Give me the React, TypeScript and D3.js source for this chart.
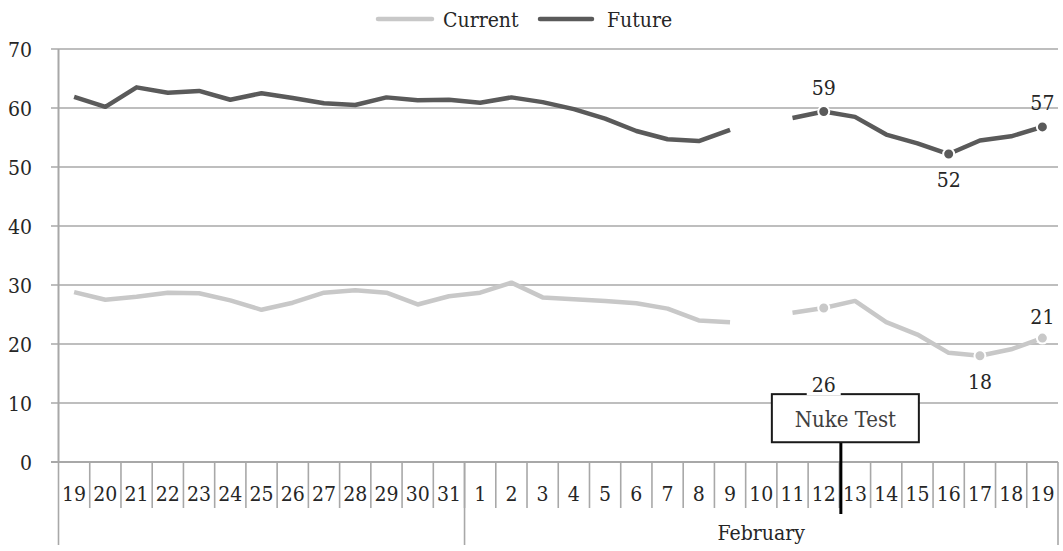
import React from "react";
import * as d3 from "d3";

const days = [
  "19", "20", "21", "22", "23", "24", "25", "26", "27", "28", "29", "30", "31",
  "1", "2", "3", "4", "5", "6", "7", "8", "9", "10", "11", "12", "13", "14", "15", "16", "17", "18", "19",
];
const monthNames = ["", "February"];
const monthLengths = [13, 19];

const currentValues: (number | null)[] = [
  28.8, 27.5, 28.0, 28.7, 28.6, 27.4, 25.8, 27.0, 28.7, 29.1, 28.7, 26.7, 28.1,
  28.7, 30.4, 27.9, 27.6, 27.3, 26.9, 26.0, 24.0, 23.7, null, 25.3, 26.1, 27.3, 23.7, 21.6, 18.5, 18.0, 19.1, 21.0,
];
const futureValues: (number | null)[] = [
  61.9, 60.2, 63.5, 62.6, 62.9, 61.4, 62.5, 61.7, 60.8, 60.5, 61.8, 61.3, 61.4,
  60.9, 61.8, 61.0, 59.8, 58.2, 56.1, 54.7, 54.4, 56.3, null, 58.3, 59.4, 58.5, 55.5, 54.0, 52.2, 54.5, 55.2, 56.8,
];
const yTicks = [0, 10, 20, 30, 40, 50, 60, 70];

const currentMarks = [
  { i: 24, pos: "box" },
  { i: 29, pos: "below" },
  { i: 31, pos: "above" },
];
const futureMarks = [
  { i: 24, pos: "above" },
  { i: 28, pos: "below" },
  { i: 31, pos: "above" },
];

const eventLabel = "Nuke Test";
const eventAfterIndex = 24;

const FONT = "'DejaVu Serif Condensed', 'DejaVu Serif', serif";
const CURRENT_COLOR = "#C8C8C8";
const FUTURE_COLOR = "#5A5A5A";
const GRID = "#A8A8A8";
const TEXT = "#262626";

export default function App() {
  const W = 1063;
  const H = 551;
  const x0 = 58.5;
  const x1 = 1058;
  const yTop = 49;
  const yBot = 462;

  const x = d3.scaleBand<number>().domain(d3.range(days.length)).range([x0, x1]).paddingInner(0).paddingOuter(0);
  const y = d3.scaleLinear().domain([0, 70]).range([yBot, yTop]);
  const bw = x.bandwidth();
  const cx = (i: number) => (x(i) as number) + bw / 2;

  const line = d3
    .line<number | null>()
    .defined((d) => d !== null)
    .x((_, i) => cx(i))
    .y((d) => y(d as number));

  const groupEdges: number[] = [0];
  monthLengths.forEach((n, k) => groupEdges.push(groupEdges[k] + n));

  const evX = (x(eventAfterIndex) as number) + bw + 1.5;
  const boxW = 147;
  const boxCx = evX + 4.5;
  const boxTop = y(11.5);
  const boxBot = y(3.35);

  const fontSize = 21;

  return (
    <svg width={W} height={H} fontFamily={FONT} fontStretch="condensed" style={{ display: "block", position: "absolute", left: 0, top: 0 }}>
      <rect x={0} y={0} width={W} height={H} fill="#fff" />
      <g>
        <line x1={378} x2={432} y1={19} y2={19} stroke={CURRENT_COLOR} strokeWidth={4.5} strokeLinecap="round" />
        <text x={443} y={27} fontSize={fontSize} fill={TEXT}>Current</text>
        <line x1={540} x2={592} y1={19} y2={19} stroke={FUTURE_COLOR} strokeWidth={4.5} strokeLinecap="round" />
        <text x={607} y={27} fontSize={fontSize} fill={TEXT}>Future</text>
      </g>
      {yTicks.map((t) => (
        <g key={t}>
          <line x1={51} x2={x1} y1={y(t)} y2={y(t)} stroke={GRID} strokeWidth={t === 0 ? 2 : 1.6} />
          <text x={32} y={y(t) + 8} fontSize={fontSize} textAnchor="end" fill={TEXT}>{t}</text>
        </g>
      ))}
      <line x1={x0} x2={x0} y1={yTop} y2={yBot} stroke={GRID} strokeWidth={2} />
      {days.map((d, i) => (
        <g key={i}>
          {i > 0 && <line x1={x(i) as number} x2={x(i) as number} y1={yBot} y2={508} stroke={GRID} strokeWidth={1.6} />}
          <text x={cx(i)} y={501} fontSize={fontSize} textAnchor="middle" fill={TEXT}>{d}</text>
        </g>
      ))}
      {groupEdges.map((g, k) => {
        const gx = g < days.length ? (x(g) as number) : x1;
        return <line key={k} x1={gx} x2={gx} y1={yBot} y2={545} stroke={GRID} strokeWidth={1.6} />;
      })}
      {monthNames.map((m, k) => {
        const a = x(groupEdges[k]) as number;
        const b = groupEdges[k + 1] < days.length ? (x(groupEdges[k + 1]) as number) : x1;
        return (
          <text key={k} x={(a + b) / 2} y={540} fontSize={fontSize} textAnchor="middle" fill={TEXT}>{m}</text>
        );
      })}
      <path d={line(currentValues) || ""} fill="none" stroke={CURRENT_COLOR} strokeWidth={4.5} strokeLinejoin="round" />
      <path d={line(futureValues) || ""} fill="none" stroke={FUTURE_COLOR} strokeWidth={4.5} strokeLinejoin="round" />
      <line x1={evX} x2={evX} y1={boxBot} y2={514} stroke="#000" strokeWidth={3} />
      <rect x={boxCx - boxW / 2} y={boxTop} width={boxW} height={boxBot - boxTop} fill="#fff" stroke="#1a1a1a" strokeWidth={2} />
      <text x={boxCx} y={boxBot - 15} fontSize={22} textAnchor="middle" fill="#404040">{eventLabel}</text>
      {futureMarks.map((m) => {
        const v = futureValues[m.i] as number;
        const px = cx(m.i);
        const py = y(v);
        return (
          <g key={"f" + m.i}>
            <circle cx={px} cy={py} r={5.5} fill={FUTURE_COLOR} stroke="#fff" strokeWidth={2} />
            <text x={px} y={m.pos === "above" ? py - 17 : py + 33} fontSize={fontSize} textAnchor="middle" fill={TEXT}>
              {Math.round(v)}
            </text>
          </g>
        );
      })}
      {currentMarks.map((m) => {
        const v = currentValues[m.i] as number;
        const px = cx(m.i);
        const py = y(v);
        const ty = m.pos === "above" ? py - 14 : m.pos === "below" ? py + 33 : boxTop - 2;
        return (
          <g key={"c" + m.i}>
            <circle cx={px} cy={py} r={5.5} fill={CURRENT_COLOR} stroke="#fff" strokeWidth={2} />
            {m.pos === "box" && <rect x={px - 17} y={ty - 18} width={34} height={21} fill="#fff" />}
            <text x={px} y={ty} fontSize={fontSize} textAnchor="middle" fill={TEXT}>
              {Math.round(v)}
            </text>
          </g>
        );
      })}
    </svg>
  );
}
